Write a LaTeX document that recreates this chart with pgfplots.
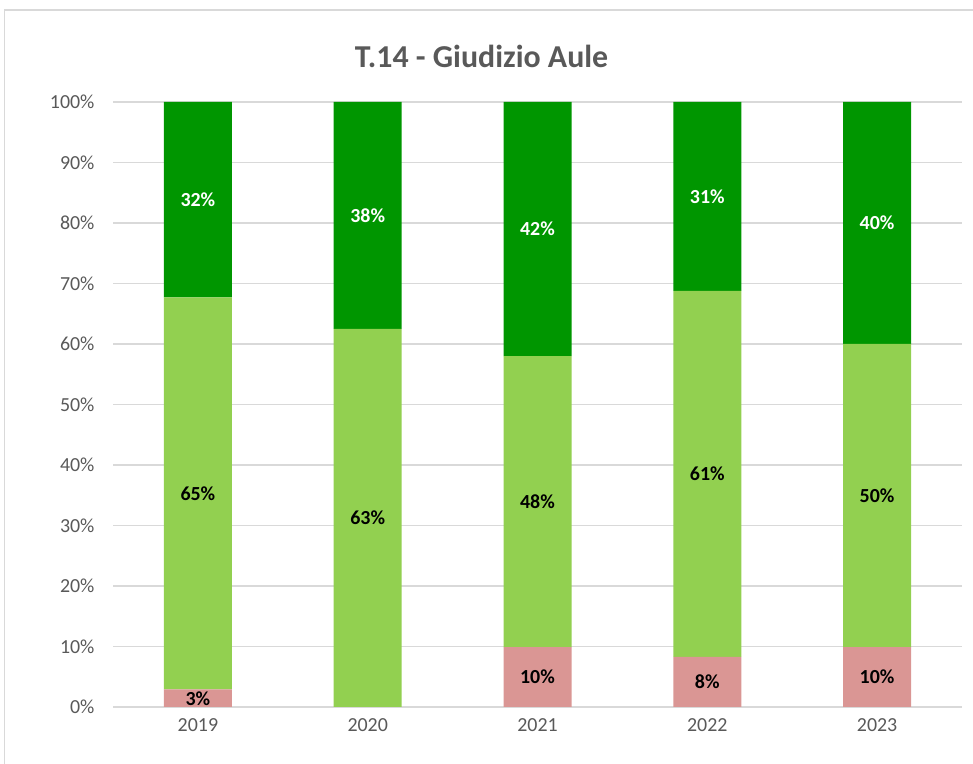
\documentclass[border=0pt]{standalone}
\usepackage{pgfplots}
\pgfplotsset{compat=1.18}
\usepackage{fontspec}
\setmainfont{Carlito}
\definecolor{dgreen}{RGB}{0,150,0}
\definecolor{lgreen}{RGB}{146,208,80}
\definecolor{pinkred}{RGB}{218,150,148}
\definecolor{txtgray}{RGB}{89,89,89}
\definecolor{gridgray}{RGB}{217,217,217}
\pgfplotsset{base/.style={
  at={(113bp,57bp)}, anchor=south west,
  scale only axis, width=849bp, height=605bp,
  xmin=-0.5, xmax=4.5, ymin=0, ymax=100, clip=false}}
\begin{document}
\begin{tikzpicture}
\path[use as bounding box] (0,0) rectangle (973bp,764bp);
\draw[gridgray, line width=1.2bp] (4.5bp,-5bp) -- (4.5bp,754bp) -- (980bp,754bp);
\node[font=\fontsize{32}{36}\selectfont\bfseries, text=txtgray] at (481.5bp,708bp) {T.14 - Giudizio Aule};
\begin{axis}[base,
  ybar stacked, bar width=68bp,
  xtick={0,1,2,3,4}, xticklabels={2019,2020,2021,2022,2023},
  ytick={0,10,...,100}, yticklabel={\pgfmathprintnumber{\tick}\%},
  /pgf/number format/assume math mode=true,
  ticklabel style={font=\fontsize{20}{24}\selectfont, text=txtgray},
  xticklabel style={yshift=-8bp},
  yticklabel style={xshift=-15bp},
  major tick length=0pt,
  ymajorgrids, grid style={gridgray, line width=1.2bp},
  axis x line*=bottom, axis y line*=left,
  x axis line style={gridgray, line width=1.2bp, -},
  y axis line style={draw=none},
]
\addplot[fill=pinkred, draw=none] coordinates {(0,2.9) (1,0) (2,9.9) (3,8.3) (4,9.9)};
\addplot[fill=lgreen, draw=none] coordinates {(0,64.8) (1,62.5) (2,48.1) (3,60.5) (4,50.1)};
\addplot[fill=dgreen, draw=none] coordinates {(0,32.3) (1,37.5) (2,42.0) (3,31.2) (4,40.0)};
\end{axis}
\begin{axis}[base, hide axis]
\addplot[draw=none, mark=none, nodes near coords, point meta=explicit symbolic,
  every node near coord/.append style={anchor=center, font=\fontsize{20}{24}\selectfont\bfseries, text=black}]
  table[meta=lab] {
x y lab
0 1.45 3\%
2 4.95 10\%
3 4.15 8\%
4 4.95 10\%
0 35.3 65\%
1 31.25 63\%
2 33.95 48\%
3 38.55 61\%
4 34.95 50\%
};
\addplot[draw=none, mark=none, nodes near coords, point meta=explicit symbolic,
  every node near coord/.append style={anchor=center, font=\fontsize{20}{24}\selectfont\bfseries, text=white}]
  table[meta=lab] {
x y lab
0 83.85 32\%
1 81.25 38\%
2 79.0 42\%
3 84.4 31\%
4 80.0 40\%
};
\end{axis}
\end{tikzpicture}
\end{document}
